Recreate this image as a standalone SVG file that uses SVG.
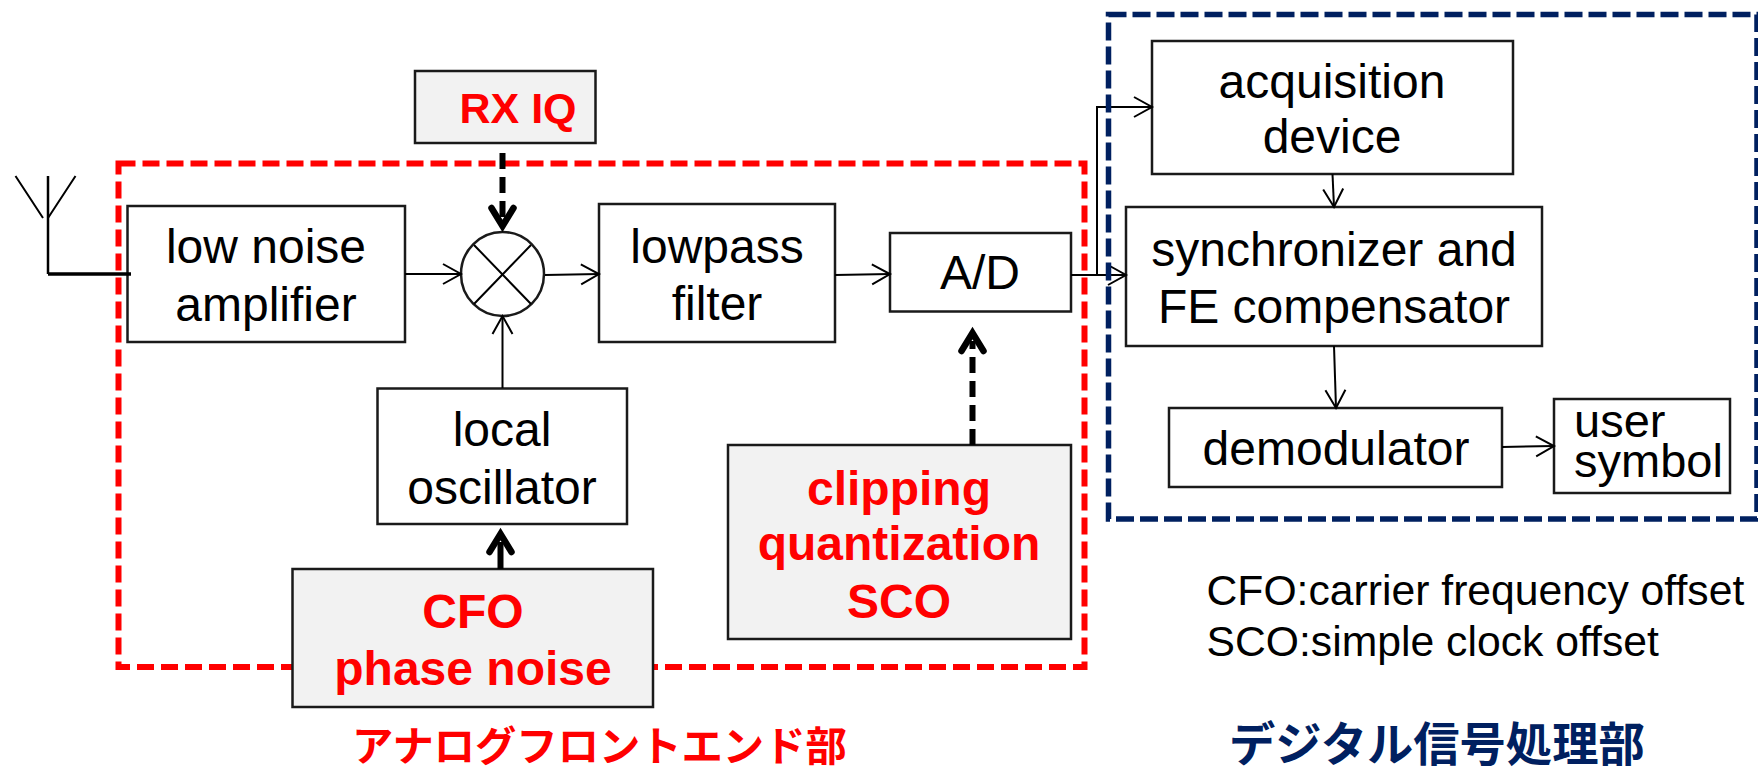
<svg xmlns="http://www.w3.org/2000/svg" width="1758" height="768" viewBox="0 0 1758 768">
<style>
.box{fill:#fff;stroke:#1a1a1a;stroke-width:2.5}
.grey{fill:#f2f2f2;stroke:#1a1a1a;stroke-width:2.5}
.t{font-family:"Liberation Sans",Arial,sans-serif;font-size:48px;fill:#000;text-anchor:middle}
.l{text-anchor:start}
.leg{font-size:42.7px}
.r{font-family:"Liberation Sans",Arial,sans-serif;font-size:48px;font-weight:bold;fill:#f00;text-anchor:middle}
.cjk{font-family:"Liberation Sans","Noto Sans CJK JP",sans-serif;font-weight:bold;font-size:41.300px}
.c{fill:none;stroke:#000;stroke-width:2}
.th{fill:none;stroke:#000;stroke-width:6;stroke-dasharray:16 8}
.frame{fill:none}
</style>
<defs>
<marker id="open" markerUnits="userSpaceOnUse" markerWidth="24" markerHeight="26" refX="21" refY="13" orient="auto" viewBox="0 0 24 26"><path d="M3 3L21 13L3 23" fill="none" stroke="#000" stroke-width="2"/></marker>
<marker id="bold" markerUnits="userSpaceOnUse" markerWidth="40" markerHeight="36" refX="20" refY="18" orient="auto" viewBox="0 0 40 36"><path d="M10 7L28 18L10 29" fill="none" stroke="#000" stroke-width="6.500" stroke-linecap="round" stroke-linejoin="miter"/></marker>
</defs>
<rect id="analog-frame" class="frame" x="118.500" y="163.500" width="966" height="503.500" stroke="#f00" stroke-width="6" stroke-dasharray="17 7"/>
<g id="lna"><rect class="box" x="127.500" y="206" width="277.500" height="136"/><text class="t" x="266" y="263">low noise</text><text class="t" x="266" y="321">amplifier</text></g>
<g id="rx-iq"><rect class="grey" x="415" y="71" width="180.500" height="72"/><text class="r" style="font-size:43px" x="518" y="123">RX IQ</text></g>
<g id="mixer"><ellipse class="box" cx="502.500" cy="274" rx="41.500" ry="42"/><path d="M474 245L531 304M531 245L474 304" fill="none" stroke="#000" stroke-width="2"/></g>
<g id="lowpass"><rect class="box" x="599" y="204" width="236" height="138"/><text class="t" x="717" y="263">lowpass</text><text class="t" x="717" y="320">filter</text></g>
<g id="ad"><rect class="box" x="890" y="233" width="181" height="78.500"/><text class="t" x="980" y="289">A/D</text></g>
<g id="local-oscillator"><rect class="box" x="377.500" y="388.500" width="249.500" height="135.500"/><text class="t" x="502" y="446">local</text><text class="t" x="502" y="504">oscillator</text></g>
<g id="cfo-phase"><rect class="grey" x="292.500" y="569" width="360.500" height="138"/><text class="r" x="473" y="628">CFO</text><text class="r" x="473" y="685">phase noise</text></g>
<g id="clipping"><rect class="grey" x="728" y="445" width="343" height="194"/><text class="r" x="899" y="505">clipping</text><text class="r" x="899" y="560">quantization</text><text class="r" x="899" y="618">SCO</text></g>
<g id="acquisition"><rect class="box" x="1152" y="41" width="361" height="133"/><text class="t" x="1332" y="98">acquisition</text><text class="t" x="1332" y="153">device</text></g>
<g id="synchronizer"><rect class="box" x="1126" y="207" width="416" height="139"/><text class="t" x="1334" y="266">synchronizer and</text><text class="t" x="1334" y="323">FE compensator</text></g>
<g id="demodulator"><rect class="box" x="1169" y="408" width="333" height="79"/><text class="t" x="1336" y="465">demodulator</text></g>
<g id="user-symbol"><rect class="box" x="1554" y="399" width="176" height="94"/><text class="t l" style="font-size:47px" x="1574" y="437">user</text><text class="t l" style="font-size:47px" x="1574" y="477">symbol</text></g>
<g id="antenna"><path d="M48 176V274" fill="none" stroke="#000" stroke-width="2.500"/><path d="M15.500 176L43 218M75.500 176L48 218" fill="none" stroke="#000" stroke-width="2"/><path d="M48 274H131" fill="none" stroke="#000" stroke-width="3.500"/></g>
<g id="connectors">
<path class="c" marker-end="url(#open)" d="M405 274H461"/>
<path class="c" marker-end="url(#open)" d="M545 275L599 274"/>
<path class="c" marker-end="url(#open)" d="M502.500 388V316"/>
<path class="c" marker-end="url(#open)" d="M835 275L890 274"/>
<path class="c" marker-end="url(#open)" d="M1071 275H1126"/>
<path class="c" marker-end="url(#open)" d="M1097 275V107H1152"/>
<path class="c" marker-end="url(#open)" d="M1332.500 174L1334 207"/>
<path class="c" marker-end="url(#open)" d="M1334 346L1336 408"/>
<path class="c" marker-end="url(#open)" d="M1502 447L1554 446"/>
<path class="th" marker-end="url(#bold)" d="M502.500 153V218"/>
<path class="th" style="stroke-dasharray:none" marker-end="url(#bold)" d="M500.500 569V542"/>
<path class="th" marker-end="url(#bold)" d="M972.500 445V341"/>
</g>
<rect id="digital-frame" class="frame" x="1108.500" y="14.500" width="648.500" height="504.500" stroke="#002060" stroke-width="5.500" stroke-dasharray="18 6"/>
<text class="t l leg" x="1206.500" y="605">CFO:carrier frequency offset</text>
<text class="t l leg" x="1206.500" y="656">SCO:simple clock offset</text>
<text class="t l cjk" style="fill:#f00" x="352" y="761">アナログフロントエンド部</text>
<text class="t l cjk" style="fill:#002060;font-size:46.300px" x="1229" y="761">デジタル信号処理部</text>
</svg>
